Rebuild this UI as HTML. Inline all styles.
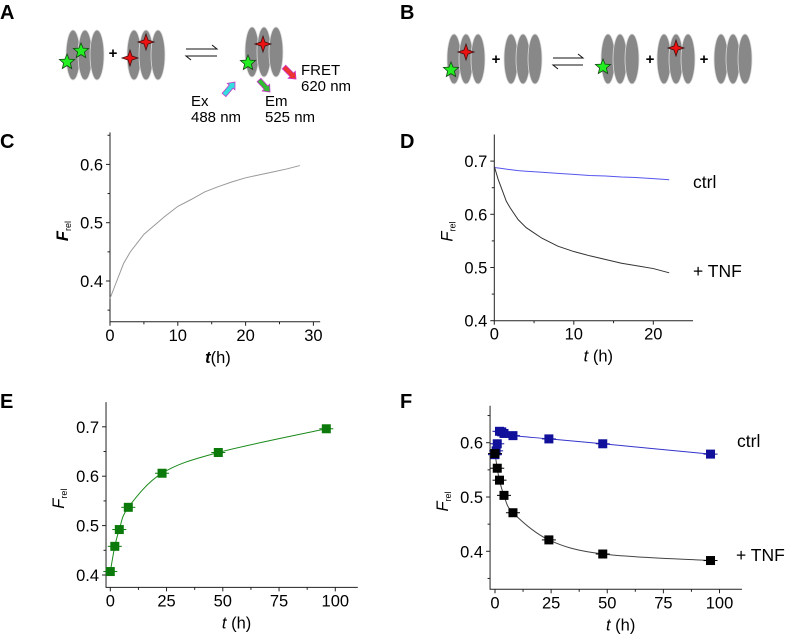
<!DOCTYPE html>
<html><head><meta charset="utf-8"><style>
body{margin:0;background:#fff;}
svg{display:block;font-family:"Liberation Sans",Arial,sans-serif;}
</style></head><body>
<svg id="fig" width="787" height="635" viewBox="0 0 787 635" xmlns="http://www.w3.org/2000/svg">
<g font-weight="bold" font-size="20" fill="#000">
<text x="0" y="19">A</text>
<text x="400" y="19">B</text>
<text x="0" y="148">C</text>
<text x="400" y="148">D</text>
<text x="0" y="408">E</text>
<text x="400" y="408">F</text>
</g>
<g id="diagrams"></g>
<g id="charts"></g>
</svg>
<script>
// ---- Panel C data ----
const cT=[0,0.5,1,2,3,4,5,6,7,8,10,12,14,16,18,20,22,24,26,28];
const cF=[0.37,0.385,0.40,0.43,0.45,0.465,0.48,0.49,0.50,0.51,0.528,0.54,0.553,0.562,0.57,0.577,0.582,0.587,0.592,0.598];
// ---- Panel D data ----
const dT=[0,0.5,1,1.5,2,3,4,5,6,8,10,12,14,16,18,20,22];
const dCtrl=[0.688,0.687,0.686,0.685,0.684,0.682,0.681,0.680,0.679,0.677,0.675,0.673,0.672,0.670,0.669,0.667,0.665];
const dTnf=[0.69,0.665,0.645,0.625,0.612,0.59,0.575,0.565,0.555,0.54,0.53,0.522,0.515,0.508,0.503,0.498,0.49];
// ---- Panel E data ----
const eT=[0,2,4,8,23,48,96];
const eF=[0.407,0.458,0.492,0.537,0.606,0.648,0.696];
// ---- Panel F data ----
const fCtrlT=[0,0.5,1,2,3,4,8,24,48,96];
const fCtrl=[0.578,0.585,0.598,0.621,0.62,0.617,0.613,0.607,0.598,0.579];
const fTnfT=[0,1,2,4,8,24,48,96];
const fTnf=[0.58,0.553,0.531,0.503,0.471,0.421,0.395,0.383];
const cXTicks=[0,10,20,30], cYTicks=[0.4,0.5,0.6];
const dXTicks=[0,10,20], dYTicks=[0.4,0.5,0.6,0.7];
const eXTicks=[0,25,50,75,100], eYTicks=[0.4,0.5,0.6,0.7];
const fXTicks=[0,25,50,75,100], fYTicks=[0.4,0.5,0.6];

const NS="http://www.w3.org/2000/svg";
function mk(parent,tag,attrs,text){const e=document.createElementNS(NS,tag);for(const k in attrs)e.setAttribute(k,attrs[k]);if(text!==undefined)e.textContent=text;parent.appendChild(e);return e;}
const charts=document.getElementById('charts');

function axes(cfg){
  const g=mk(charts,'g',{});
  
  
  const X=v=>cfg.x0+(v-cfg.xmin)*cfg.xs, Y=v=>cfg.y0-(v-cfg.ymin)*cfg.ys;
  const L=X(cfg.xlo), R=X(cfg.xhi), T=Y(cfg.yhi), B=Y(cfg.ylo);
  const ax=mk(g,'path',{d:`M${L},${T}V${B}H${R}`,stroke:'#222',fill:'none','stroke-width':1});
  
  
  cfg.xt.forEach((v,i)=>{
    mk(g,'line',{x1:X(v),x2:X(v),y1:B,y2:B+4,stroke:'#222'});
    if(i<cfg.xt.length-1&&cfg.xminor){const m=(v+cfg.xt[i+1])/2;mk(g,'line',{x1:X(m),x2:X(m),y1:B,y2:B+2.5,stroke:'#222'});}
    const t=mk(g,'text',{x:X(v),y:B+19,'font-size':16.5,'text-anchor':'middle'},String(v));
    
    
  });
  cfg.yt.forEach((v,i)=>{
    mk(g,'line',{x1:L-4,x2:L,y1:Y(v),y2:Y(v),stroke:'#222'});
    const m=v+(cfg.yt[1]-cfg.yt[0])/2; if(m<cfg.yhi) mk(g,'line',{x1:L-2.5,x2:L,y1:Y(m),y2:Y(m),stroke:'#222'});
    const m2=v-(cfg.yt[1]-cfg.yt[0])/2; if(i==0&&m2>cfg.ylo) mk(g,'line',{x1:L-2.5,x2:L,y1:Y(m2),y2:Y(m2),stroke:'#222'});
    const t=mk(g,'text',{x:L-7,y:Y(v)+6,'font-size':16.5,'text-anchor':'end'},v.toFixed(1));
    
    
  });
  const xt=mk(g,'text',{x:(L+R)/2-10,y:B+41,'font-size':16.5});
  
  
  mk(xt,'tspan',{'font-style':'italic','font-weight':cfg.boldT?'bold':'normal'},'t');
  mk(xt,'tspan',{},cfg.boldT?'(h)':' (h)');
  const yt=mk(g,'text',{transform:`translate(${L-42},${(T+B)/2+14}) rotate(-90)`,'font-size':16.5});
  
  
  mk(yt,'tspan',{'font-style':'italic','font-weight':cfg.boldT?'bold':'normal'},'F');
  mk(yt,'tspan',{'font-size':9,dy:3},'rel');
  return {g,X,Y};
}
function line(a,xs,ys,color,name,w){
  const p=mk(a.g,'polyline',{points:xs.map((t,i)=>a.X(t)+','+a.Y(ys[i])).join(' '),fill:'none',stroke:color,'stroke-width':w||1});
  
  
}
function smooth(a,xs,ys,color,name){
  const P=xs.map((t,i)=>[a.X(t),a.Y(ys[i])]);
  let d=`M${P[0][0]},${P[0][1]}`;
  for(let i=0;i<P.length-1;i++){
    const p0=P[i-1]||P[i],p1=P[i],p2=P[i+1],p3=P[i+2]||P[i+1];
    d+=` C${p1[0]+(p2[0]-p0[0])/6},${p1[1]+(p2[1]-p0[1])/6} ${p2[0]-(p3[0]-p1[0])/6},${p2[1]-(p3[1]-p1[1])/6} ${p2[0]},${p2[1]}`;
  }
  const p=mk(a.g,'path',{d,fill:'none',stroke:color,'stroke-width':1});
  
  
}
function markers(a,xs,ys,color,name){
  xs.forEach((t,i)=>{
    const x=a.X(t),y=a.Y(ys[i]);
    mk(a.g,'line',{x1:x-7,x2:x+7,y1:y,y2:y,stroke:color,'stroke-width':1});
    const r=mk(a.g,'rect',{x:x-4.5,y:y-4.5,width:9,height:9,fill:color});
    
    
  });
}
function label(a,x,y,txt,name){
  const t=mk(a.g,'text',{x,y,'font-size':17.5},txt);
  
  
}
// C
const C=axes({name:'chart-c',x0:110,xmin:0,xs:6.78,y0:281,ymin:0.4,ys:583,xlo:0,xhi:31,ylo:0.33,yhi:0.655,xt:cXTicks,yt:cYTicks,xminor:true,boldT:true});
line(C,cT,cF,'#999','series-c-trace');
// D
const D=axes({name:'chart-d',x0:494.3,xmin:0,xs:7.95,y0:320.7,ymin:0.4,ys:532,xlo:0,xhi:25,ylo:0.4,yhi:0.75,xt:dXTicks,yt:dYTicks,xminor:true});
line(D,dT,dCtrl,'#5555ee','series-d-ctrl');
line(D,dT,dTnf,'#333','series-d-tnf');
label(D,693,188,'ctrl','label-d-ctrl');
label(D,693,277,'+ TNF','label-d-tnf');
// E
const E=axes({name:'chart-e',x0:110.3,xmin:0,xs:2.25,y0:575,ymin:0.4,ys:494,xlo:-1.9,xhi:110,ylo:0.375,yhi:0.75,xt:eXTicks,yt:eYTicks,xminor:true});
smooth(E,eT,eF,'#1a8a1a','series-e-fit');
markers(E,eT,eF,'#0b7a0b','point-e');
// F
const F=axes({name:'chart-f',x0:495,xmin:0,xs:2.245,y0:551.3,ymin:0.4,ys:543,xlo:-2.2,xhi:110,ylo:0.33,yhi:0.668,xt:fXTicks,yt:fYTicks,xminor:true});
smooth(F,fCtrlT.slice(3),fCtrl.slice(3),'#3333cc','series-f-ctrl-fit');
smooth(F,fTnfT,fTnf,'#444','series-f-tnf-fit');
markers(F,fCtrlT,fCtrl,'#10109a','point-f-ctrl');
markers(F,fTnfT,fTnf,'#000','point-f-tnf');
label(F,737,447,'ctrl','label-f-ctrl');
label(F,736,561,'+ TNF','label-f-tnf');

// ---- diagrams ----
const dg=document.getElementById('diagrams');
function nuc(cx,cy,name){
  const g=mk(dg,'g',{});
  
  
  [-12,0,12].forEach(o=>mk(g,'ellipse',{cx:cx+o,cy,rx:7,ry:25,fill:'#888',stroke:'#ddd','stroke-width':0.8}));
}
function star5(x,y,r){let p=[];for(let i=0;i<10;i++){const a=-Math.PI/2+i*Math.PI/5,rr=i%2?r*0.45:r;p.push((x+rr*Math.cos(a)).toFixed(1)+','+(y+rr*Math.sin(a)).toFixed(1));}
  const s=mk(dg,'polygon',{points:p.join(' '),fill:'#22ee22',stroke:'#114411','stroke-width':0.8});
  
  }
function star4(x,y,r){let p=[];for(let i=0;i<8;i++){const a=-Math.PI/2+i*Math.PI/4,rr=i%2?r*0.35:r;p.push((x+rr*Math.cos(a)).toFixed(1)+','+(y+rr*Math.sin(a)).toFixed(1));}
  const s=mk(dg,'polygon',{points:p.join(' '),fill:'#ee1111',stroke:'#441111','stroke-width':0.8});
  
  }
function plus(x,y){const t=mk(dg,'text',{x,y:y+5,'font-size':15,'font-weight':'bold','text-anchor':'middle'},'+');
  
  }
function eq(x1,x2,y){const g=mk(dg,'g',{stroke:'#111','stroke-width':1,fill:'none'});
  
  
  mk(g,'path',{d:`M${x1},${y}H${x2}l-5,-4`});mk(g,'path',{d:`M${x2},${y+7}H${x1}l5,4`});}
function arrow(x1,y1,x2,y2,col,name){
  const ang=Math.atan2(y2-y1,x2-x1),len=Math.hypot(x2-x1,y2-y1);
  const g=mk(dg,'g',{transform:`translate(${x1},${y1}) rotate(${ang*180/Math.PI})`});
  
  
  mk(g,'path',{d:`M0,-2.5H${len-6}V-5L${len},0L${len-6},5V2.5H0Z`,fill:col,stroke:'#cc33cc','stroke-width':0.8});
}
function txt(x,y,s,name){const t=mk(dg,'text',{x,y,'font-size':15},s);}
// A
nuc(85,55,'nucleosome-a1');star5(67,62,8);star5(81,51,8);plus(113,53);
nuc(146,55,'nucleosome-a2');star4(130,58,8);star4(146,42,8);
eq(186,217,49);
nuc(264,52,'nucleosome-a3');star4(263,44,8);star5(248,63,8);
arrow(224,95,235,82,'#33dddd','excitation-arrow');
arrow(259,80,270,92,'#33bb33','emission-arrow');
arrow(284,67,296,79,'#ee3333','fret-arrow');
txt(301,75,'FRET','fret-label');txt(301,91,'620 nm','fret-wavelength');
txt(191,106,'Ex','ex-label');txt(191,122,'488 nm','ex-wavelength');
txt(265,106,'Em','em-label');txt(265,122,'525 nm','em-wavelength');
// B
nuc(466,59,'nucleosome-b1');star4(466,52,8);star5(451,70,8);plus(496,59);
nuc(523,59,'nucleosome-b2');
eq(553,583,58);
nuc(620,59,'nucleosome-b3');star5(603,67,8);plus(650,59);
nuc(676,59,'nucleosome-b4');star4(676,48,8);plus(704,59);
nuc(733,59,'nucleosome-b5');
</script>
</body></html>
